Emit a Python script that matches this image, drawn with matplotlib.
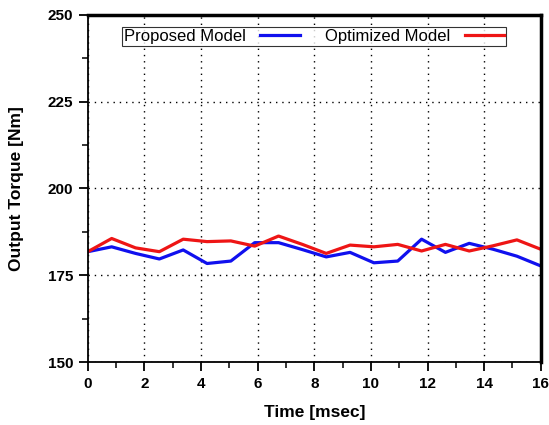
import numpy as np
import matplotlib
matplotlib.use("Agg")
import matplotlib.pyplot as plt
from matplotlib.ticker import MultipleLocator

plt.rcParams['font.family'] = ['Liberation Sans', 'DejaVu Sans']

# torque samples over one 16 ms window
time_ms = np.linspace(0, 16, 20)
proposed = [181.8, 183.2, 181.3, 179.7, 182.3, 178.4, 179.1, 184.4, 184.4, 182.4,
            180.3, 181.6, 178.6, 179.1, 185.4, 181.6, 184.2, 182.5, 180.5, 177.7]
optimized = [181.8, 185.6, 182.9, 181.8, 185.4, 184.7, 184.9, 183.4, 186.3, 183.9,
             181.3, 183.7, 183.2, 183.9, 182.0, 183.9, 182.0, 183.5, 185.2, 182.5]

fig = plt.figure(figsize=(5.49, 4.25), dpi=100)
ax = fig.add_axes([0.160, 0.148, 0.825, 0.817])

ax.plot(time_ms, proposed, color="#1010ee", lw=2.3, label="Proposed Model")
ax.plot(time_ms, optimized, color="#ee1515", lw=2.3, label="Optimized Model")

ax.set_xlim(0, 16)
ax.set_ylim(150, 250)
ax.xaxis.set_major_locator(MultipleLocator(2))
ax.xaxis.set_minor_locator(MultipleLocator(1))
ax.yaxis.set_major_locator(MultipleLocator(25))
ax.yaxis.set_minor_locator(MultipleLocator(12.5))

ax.grid(True, which="major", color="black", linestyle=(0, (1, 3.5)), linewidth=1.0)
ax.tick_params(which="major", direction="out", length=6.5, width=1.3, pad=4,
               labelsize=11, top=False, right=False)
ax.tick_params(which="minor", direction="out", length=4, width=1.1,
               top=False, right=False)
for lbl in ax.get_xticklabels() + ax.get_yticklabels():
    lbl.set_fontweight("bold")

for side in ["left", "bottom"]:
    ax.spines[side].set_linewidth(1.3)
for side in ["top", "right"]:
    ax.spines[side].set_linewidth(2.5)

ax.set_xlabel("Time [msec]", fontsize=12.5, fontweight="bold", labelpad=10)
ax.set_ylabel("Output Torque [Nm]", fontsize=12.5, fontweight="bold", labelpad=17)

leg = ax.legend(loc="upper center", bbox_to_anchor=(0.499, 0.965), ncol=2,
                markerfirst=False, fontsize=12, frameon=True, fancybox=False,
                handlelength=2.35, columnspacing=1.5, borderpad=0.12,
                handletextpad=0.9, borderaxespad=0)
leg.get_frame().set_edgecolor("black")
leg.get_frame().set_linewidth(0.8)

fig.savefig("out.png", dpi=100)
